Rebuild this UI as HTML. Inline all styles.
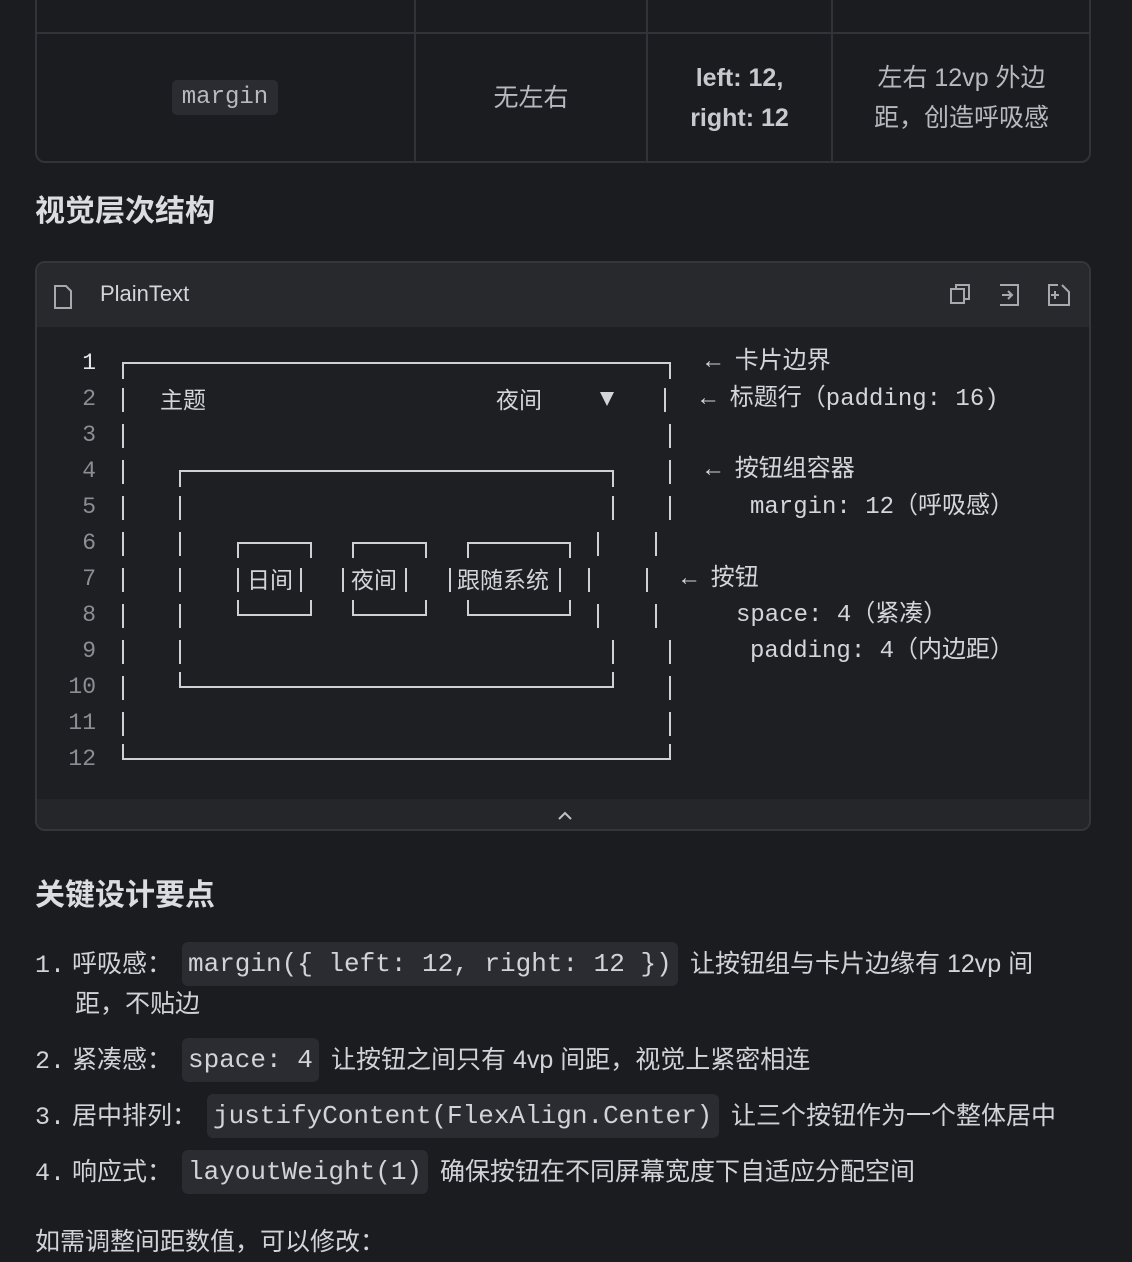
<!DOCTYPE html>
<html><head><meta charset="utf-8"><style>
*{margin:0;padding:0;box-sizing:border-box}
body{width:1132px;height:1236px;background:#1b1c1f;color:#d2d3d8;font-family:"Liberation Sans","Noto Sans CJK SC",sans-serif;position:relative;overflow:hidden}
.a{position:absolute;white-space:nowrap}
.m{font-family:"Liberation Mono","Noto Sans CJK SC",monospace}
.code{background:#2b2c31;border-radius:6px;padding:0 6px;font-family:"Liberation Mono","Noto Sans CJK SC",monospace;font-size:26px;line-height:44px;height:44px}
.li{font-size:25px;line-height:40px}
.an{font-size:24px;line-height:36px;color:#d4d5da}
</style></head><body>
<div class="a" style="left:35px;top:-10px;width:1056px;height:173px;border:2px solid #323338;border-radius:10px"></div>
<div class="a" style="left:35px;top:32px;width:1056px;height:2px;background:#323338"></div>
<div class="a" style="left:414px;top:0;width:2px;height:162px;background:#323338"></div>
<div class="a" style="left:646px;top:0;width:2px;height:162px;background:#323338"></div>
<div class="a" style="left:831px;top:0;width:2px;height:162px;background:#323338"></div>
<div class="a m" style="left:172px;top:80px;height:35px;width:106px;background:#2b2c31;border-radius:5px;font-size:24px;line-height:35px;text-align:center;color:#b8b9c0">margin</div>
<div class="a" style="left:416px;width:230px;top:80px;text-align:center;font-size:25px;line-height:36px;color:#b8b9c0">无左右</div>
<div class="a" style="left:648px;width:183px;top:58px;text-align:center;font-size:25px;line-height:40px;font-weight:bold;color:#c8c9ce">left: 12,<br>right: 12</div>
<div class="a" style="left:833px;width:257px;top:58px;text-align:center;font-size:25px;line-height:40px;color:#b8b9c0">左右 12vp 外边<br>距，创造呼吸感</div>
<div class="a" style="left:35px;top:192px;font-size:30px;font-weight:bold;line-height:40px;color:#dcdde1">视觉层次结构</div>
<div class="a" style="left:35px;top:261px;width:1056px;height:570px;border:2px solid #35363b;border-radius:10px;background:#1e1f22;overflow:hidden">
 <div style="height:64px;background:#28292d"></div>
 <div style="position:absolute;left:0;right:0;bottom:0;height:30px;background:#25262a"></div>
</div>
<svg class="a" style="left:0;top:0" width="1132" height="1236">
 <g fill="none" stroke="#a8a9b0" stroke-width="2">
  <path d="M55 286h11l5 5v17H55z"/>
  <rect x="951" y="289" width="13" height="14"/><path d="M956 289v-4h13v14h-5"/>
  <path d="M1000 285h18v20h-18M1002 295h9M1008 291l4 4-4 4"/>
  <path d="M1058 285h-9v20h20v-13l-7-7M1051 295h8M1055 291v8"/>
  <path d="M559 819l6-6 6 6" stroke="#c0c1c6"/>
 </g>
 <g fill="none" stroke="#cfd0d5" stroke-width="2">
  <path d="M123 379V363H670V379"/>
  <path d="M123 388v24M123 424v24M123 460v24M123 496v24M123 532v24M123 568v24M123 604v24M123 640v24M123 676v24M123 712v24M123 744v15H670v-15"/>
  <path d="M665 388v24M670 424v24M670 460v24M670 496v24M656 532v24M647 568v24M656 604v24M670 640v24M670 676v24M670 712v24"/>
  <path d="M180 487V471H613V487M180 496v24M180 532v24M180 568v24M180 604v24M180 640v24M180 672v15H613v-15"/>
  <path d="M613 496v24M598 532v24M589 568v24M598 604v24M613 640v24"/>
  <path d="M238 558v-15h73v15M238 600v15h73v-15M238 568v24M301 568v24"/>
  <path d="M353 558v-15h73v15M353 600v15h73v-15M343 568v24M406 568v24"/>
  <path d="M468 558v-15h102v15M468 600v15h102v-15M450 568v24M560 568v24"/>
 </g>
 <polygon points="600,392 614,392 607,406" fill="#d4d5da"/>
</svg>
<div class="a" style="left:100px;top:280px;font-size:22px;line-height:28px;color:#d4d5da">PlainText</div>
<div class="a m" style="left:50px;top:345px;width:46px;text-align:right;font-size:23px;line-height:36px;color:#8d8e95"><span style="color:#e6e7ea">1</span><br>2<br>3<br>4<br>5<br>6<br>7<br>8<br>9<br>10<br>11<br>12</div>
<div class="a" style="font-size:23px;line-height:36px;top:382px;left:160px;color:#d4d5da">主题</div>
<div class="a" style="font-size:23px;line-height:36px;top:382px;left:496px;color:#d4d5da">夜间</div>
<div class="a" style="font-size:23px;line-height:36px;top:562px;left:247px;color:#d4d5da">日间</div>
<div class="a" style="font-size:23px;line-height:36px;top:562px;left:351px;color:#d4d5da">夜间</div>
<div class="a" style="font-size:23px;line-height:36px;top:562px;left:457px;color:#d4d5da">跟随系统</div>
<div class="a m an" style="left:706px;top:345px">← 卡片边界</div>
<div class="a m an" style="left:701px;top:382px">← 标题行（padding: 16)</div>
<div class="a m an" style="left:706px;top:453px">← 按钮组容器</div>
<div class="a m an" style="left:750px;top:490px">margin: 12（呼吸感）</div>
<div class="a m an" style="left:682px;top:562px">← 按钮</div>
<div class="a m an" style="left:736px;top:598px">space: 4（紧凑）</div>
<div class="a m an" style="left:750px;top:634px">padding: 4（内边距）</div>
<div class="a" style="left:35px;top:876px;font-size:30px;font-weight:bold;line-height:40px;color:#dcdde1">关键设计要点</div>
<div class="a li" style="left:35px;top:944px"><span class="m">1.</span> 呼吸感：</div>
<div class="a code" style="left:182px;top:942px;width:496px">margin({ left: 12, right: 12 })</div>
<div class="a li" style="left:690px;top:944px">让按钮组与卡片边缘有 12vp 间</div>
<div class="a li" style="left:75px;top:984px">距，不贴边</div>
<div class="a li" style="left:35px;top:1040px"><span class="m">2.</span> 紧凑感：</div>
<div class="a code" style="left:182px;top:1038px;width:137px">space: 4</div>
<div class="a li" style="left:331px;top:1040px">让按钮之间只有 4vp 间距，视觉上紧密相连</div>
<div class="a li" style="left:35px;top:1096px"><span class="m">3.</span> 居中排列：</div>
<div class="a code" style="left:207px;top:1094px;width:512px">justifyContent(FlexAlign.Center)</div>
<div class="a li" style="left:731px;top:1096px">让三个按钮作为一个整体居中</div>
<div class="a li" style="left:35px;top:1152px"><span class="m">4.</span> 响应式：</div>
<div class="a code" style="left:182px;top:1150px;width:246px">layoutWeight(1)</div>
<div class="a li" style="left:440px;top:1152px">确保按钮在不同屏幕宽度下自适应分配空间</div>
<div class="a li" style="left:35px;top:1222px">如需调整间距数值，可以修改：</div>
</body></html>
